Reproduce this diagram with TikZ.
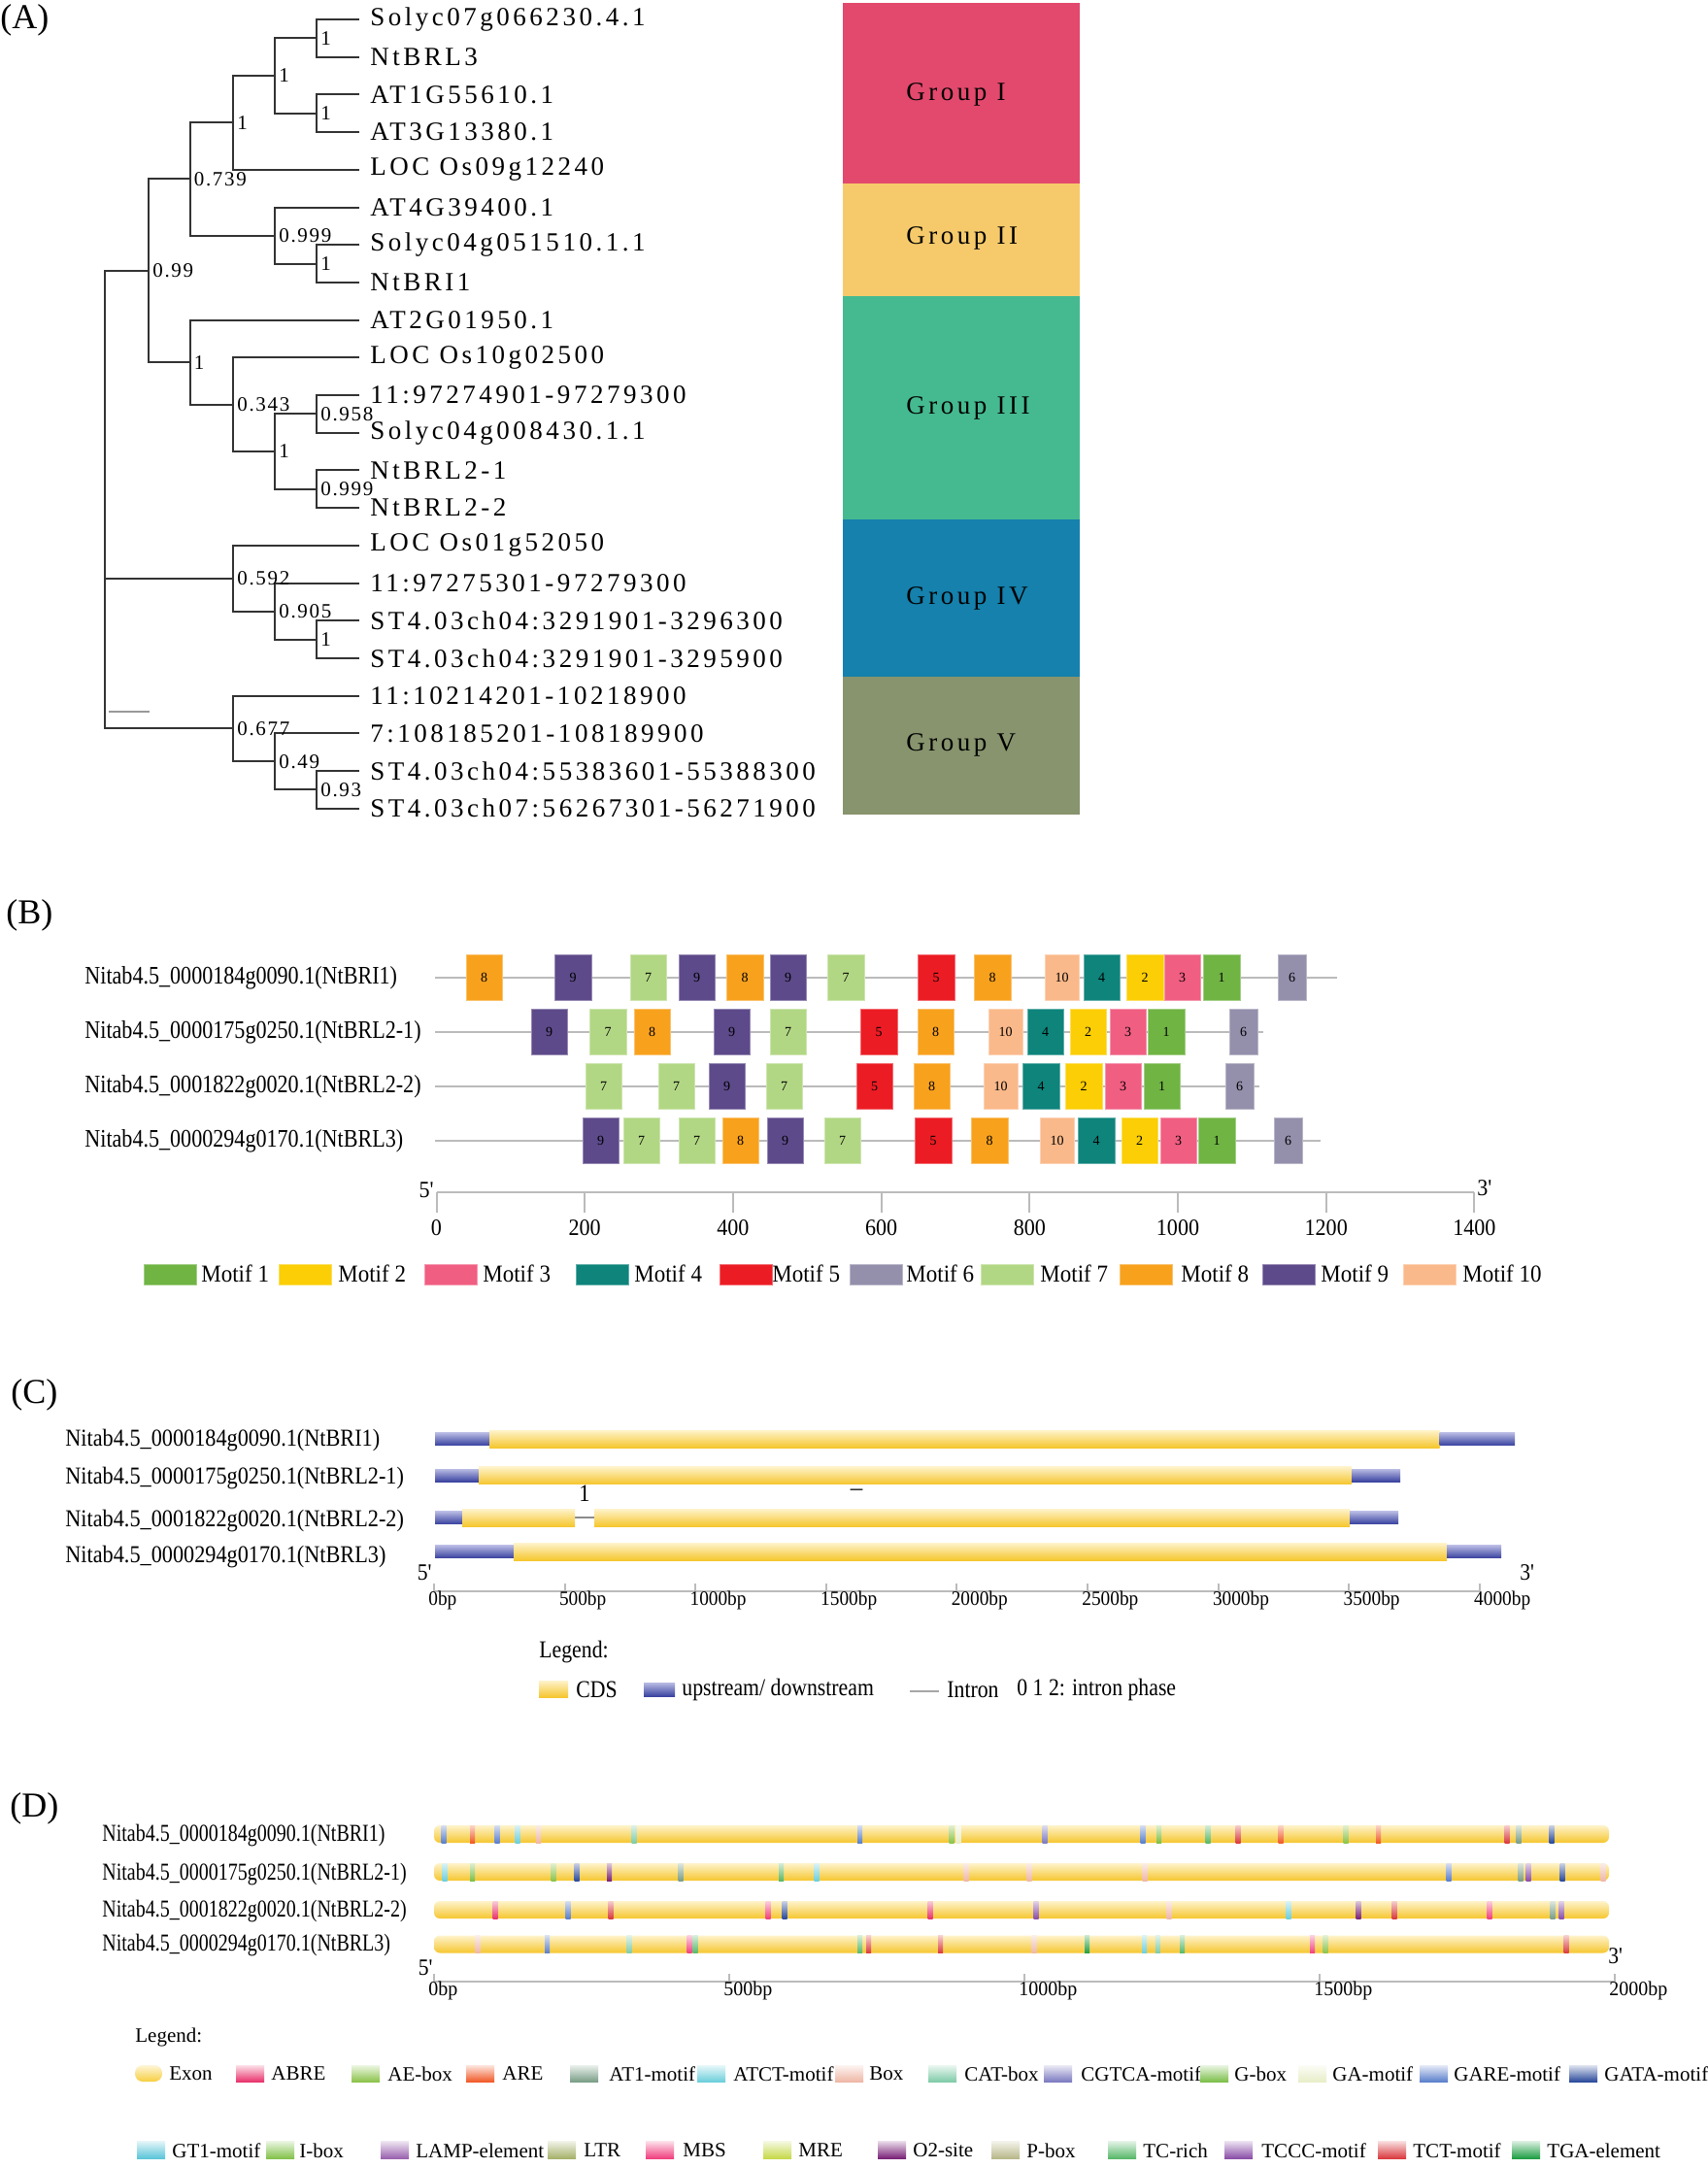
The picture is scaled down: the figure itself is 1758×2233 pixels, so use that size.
\documentclass[tikz,border=0pt]{standalone}
\usepackage{fontspec}
\setmainfont{Liberation Serif}
\newfontfamily\lsA[LetterSpace=13]{Liberation Serif}
\newfontfamily\lsB[LetterSpace=8]{Liberation Serif}
\usepackage{graphicx}
\newcommand\sx[2]{\scalebox{#1}[1]{#2}}
\newcommand\pr{\textquotesingle}
% group colours
\definecolor{g1}{HTML}{E2496D}
\definecolor{g2}{HTML}{F6CA6B}
\definecolor{g3}{HTML}{45BA91}
\definecolor{g4}{HTML}{1581AC}
\definecolor{g5}{HTML}{87946D}
% motif colours
\definecolor{m1}{HTML}{70B444}
\definecolor{m2}{HTML}{FBCE05}
\definecolor{m3}{HTML}{F05E82}
\definecolor{m4}{HTML}{0E847B}
\definecolor{m5}{HTML}{EC1C24}
\definecolor{m6}{HTML}{948FAB}
\definecolor{m7}{HTML}{B2D784}
\definecolor{m8}{HTML}{F8A11D}
\definecolor{m9}{HTML}{5D4A8A}
\definecolor{m10}{HTML}{FAB98A}
% gene structure
\definecolor{ytop}{HTML}{FEF3CB}
\definecolor{ymid}{HTML}{F9D766}
\definecolor{ybot}{HTML}{F5C62E}
\definecolor{btop}{HTML}{B8BBE3}
\definecolor{bmid}{HTML}{6E74C0}
\definecolor{bbot}{HTML}{3A43A0}
\definecolor{axgray}{HTML}{BBBBBB}
% cis elements
\definecolor{cExon}{HTML}{F7CE3E}
\definecolor{cABRE}{HTML}{E8336D}
\definecolor{cAE}{HTML}{8BC34A}
\definecolor{cARE}{HTML}{F05A28}
\definecolor{cAT1}{HTML}{7A9E87}
\definecolor{cATCT}{HTML}{6CCFDB}
\definecolor{cBox}{HTML}{EEB7A6}
\definecolor{cCAT}{HTML}{7FCBA8}
\definecolor{cCGTCA}{HTML}{7C7AC0}
\definecolor{cGbox}{HTML}{7CBF4A}
\definecolor{cGA}{HTML}{E8EDC8}
\definecolor{cGARE}{HTML}{5B7FCB}
\definecolor{cGATA}{HTML}{2B4A9B}
\definecolor{cGT1}{HTML}{5BC5D9}
\definecolor{cIbox}{HTML}{83C24B}
\definecolor{cLAMP}{HTML}{9A62AE}
\definecolor{cLTR}{HTML}{A6B26B}
\definecolor{cMBS}{HTML}{F0407F}
\definecolor{cMRE}{HTML}{C6D94A}
\definecolor{cO2}{HTML}{7A2378}
\definecolor{cPbox}{HTML}{B8B88A}
\definecolor{cTC}{HTML}{58B86A}
\definecolor{cTCCC}{HTML}{8A4EA8}
\definecolor{cTCT}{HTML}{D93A3F}
\definecolor{cTGA}{HTML}{1E9E44}
% helper macros
\newcommand\motif[4]{% y, x1, x2, motif number
  \fill[m#4, draw=m#4!65!white, line width=0.5pt] (#2,#1-23.5) rectangle (#3,#1+23.5);
  \node[font=\fontsize{7}{8}\selectfont, inner sep=0] at ({(#2+#3)/2},#1) {#4};}
\newcommand\cdsbar[3]{\shade[top color=ytop, middle color=ymid, bottom color=ybot] (#2,#1-9) rectangle (#3,#1+9);}
\newcommand\utrbar[3]{\shade[top color=btop, middle color=bmid, bottom color=bbot] (#2,#1-6.5) rectangle (#3,#1+6.5);}
\newcommand\stripe[3]{\shade[top color=#3!25!white, bottom color=#3] (#2-2.5,#1-9) rectangle (#2+2.5,#1+9);}
\begin{document}
\begin{tikzpicture}[x=0.5pt,y=-0.5pt,
  treeline/.style={draw=black!80, line width=1pt},
  leaflab/.style={anchor=west, inner sep=0, font=\lsA\fontsize{13.5}{15}\selectfont},
  suplab/.style={anchor=west, inner sep=0, font=\lsB\fontsize{10.5}{12}\selectfont},
  grplab/.style={anchor=west, inner sep=0, font=\lsA\fontsize{13.5}{15}\selectfont},
  panellab/.style={anchor=west, inner sep=0, font=\fontsize{18}{20}\selectfont},
  rowlab/.style={anchor=west, inner sep=0, font=\fontsize{13}{15}\selectfont},
  crowlab/.style={anchor=west, inner sep=0, font=\fontsize{12.5}{15}\selectfont},
  axisl/.style={draw=axgray, line width=1pt},
  tickB/.style={inner sep=0, font=\fontsize{12}{14}\selectfont},
  tickC/.style={anchor=west, inner sep=0, font=\fontsize{10.5}{12}\selectfont},
  legB/.style={anchor=west, inner sep=0, font=\fontsize{12.5}{15}\selectfont},
  legD/.style={anchor=west, inner sep=0, font=\fontsize{10.5}{12}\selectfont},
  primelab/.style={inner sep=0, font=\fontsize{12}{14}\selectfont}
]
\useasboundingbox (0,0) rectangle (1758,2233);
\fill[white] (0,0) rectangle (1758,2233);

%%%%%%%%%%%%%%%% (A) %%%%%%%%%%%%%%%%
\node[panellab] (PA) at (0,21) {(A)};
\foreach \i/\t in {0/Solyc07g066230.4.1, 1/NtBRL3, 2/AT1G55610.1, 3/AT3G13380.1,
  4/LOC Os09g12240, 5/AT4G39400.1, 6/Solyc04g051510.1.1, 7/NtBRI1, 8/AT2G01950.1,
  9/LOC Os10g02500, 10/11:97274901-97279300, 11/Solyc04g008430.1.1, 12/NtBRL2-1,
  13/NtBRL2-2, 14/LOC Os01g52050, 15/11:97275301-97279300, 16/ST4.03ch04:3291901-3296300,
  17/ST4.03ch04:3291901-3295900, 18/11:10214201-10218900, 19/7:108185201-108189900,
  20/ST4.03ch04:55383601-55388300, 21/ST4.03ch07:56267301-56271900}{
  \coordinate (L\i) at (370,{20+38.7*\i});
  \node[leaflab] (T\i) at (381,{20+38.7*\i}) {\t};
}
\coordinate (n1) at (326,39.35);
\coordinate (n2) at (326,116.75);
\coordinate (n3) at (283,78.05);
\coordinate (n4) at (240,126.4);
\coordinate (n5) at (326,271.55);
\coordinate (n6) at (283,242.5);
\coordinate (n7) at (195.5,184.45);
\coordinate (n8) at (326,426.35);
\coordinate (n9) at (326,503.75);
\coordinate (n10) at (283,465.05);
\coordinate (n11) at (240,416.7);
\coordinate (n12) at (195.5,373.15);
\coordinate (n13) at (153,278.8);
\coordinate (n14) at (326,658.55);
\coordinate (n15) at (283,629.5);
\coordinate (n16) at (240,595.65);
\coordinate (n17) at (326,813.35);
\coordinate (n18) at (283,784.3);
\coordinate (n19) at (240,750.45);
\coordinate (root) at (108,514.6);
\draw[treeline]
  (n1) |- (L0)  (n1) |- (L1)
  (n2) |- (L2)  (n2) |- (L3)
  (n3) |- (n1)  (n3) |- (n2)
  (n4) |- (n3)  (n4) |- (L4)
  (n5) |- (L6)  (n5) |- (L7)
  (n6) |- (L5)  (n6) |- (n5)
  (n7) |- (n4)  (n7) |- (n6)
  (n8) |- (L10) (n8) |- (L11)
  (n9) |- (L12) (n9) |- (L13)
  (n10) |- (n8) (n10) |- (n9)
  (n11) |- (L9) (n11) |- (n10)
  (n12) |- (L8) (n12) |- (n11)
  (n13) |- (n7) (n13) |- (n12)
  (n14) |- (L16) (n14) |- (L17)
  (n15) |- (L15) (n15) |- (n14)
  (n16) |- (L14) (n16) |- (n15)
  (n17) |- (L20) (n17) |- (L21)
  (n18) |- (L19) (n18) |- (n17)
  (n19) |- (L18) (n19) |- (n18)
  (root) |- (n13) (root) |- (n16) (root) |- (n19);
\foreach \n/\t in {n1/1, n2/1, n3/1, n4/1, n5/1, n6/0.999, n7/0.739, n8/0.958, n9/0.999,
  n10/1, n11/0.343, n12/1, n13/0.99, n14/1, n15/0.905, n16/0.592, n17/0.93, n18/0.49, n19/0.677}{
  \node[suplab] at ([xshift=2pt]\n) {\t};
}
\coordinate (sb1) at (112,733);
\coordinate (sb2) at (154,733);
\draw[draw=black!40, line width=1pt] (sb1) -- (sb2);
% group boxes
\fill[g1] (868,3) rectangle (1112,189);
\fill[g2] (868,189) rectangle (1112,305);
\fill[g3] (868,305) rectangle (1112,535);
\fill[g4] (868,535) rectangle (1112,697);
\fill[g5] (868,697) rectangle (1112,839);
\node[grplab] (G1) at (933,97) {Group I};
\node[grplab] (G2) at (933,245) {Group II};
\node[grplab] (G3) at (933,420) {Group III};
\node[grplab] (G4) at (933,616) {Group IV};
\node[grplab] (G5) at (933,767) {Group V};

%%%%%%%%%%%%%%%% (B) %%%%%%%%%%%%%%%%
\node[panellab] (PB) at (6,943) {(B)};
\draw[axisl] (448,1007) -- (1377,1007);
\draw[axisl] (448,1063) -- (1301,1063);
\draw[axisl] (448,1119) -- (1297,1119);
\draw[axisl] (448,1175) -- (1360,1175);
\node[rowlab] (B1) at (87,1007) {\sx{0.85}{Nitab4.5\_0000184g0090.1(NtBRI1)}};
\node[rowlab] (B2) at (87,1063) {\sx{0.85}{Nitab4.5\_0000175g0250.1(NtBRL2-1)}};
\node[rowlab] (B3) at (87,1119) {\sx{0.85}{Nitab4.5\_0001822g0020.1(NtBRL2-2)}};
\node[rowlab] (B4) at (87,1175) {\sx{0.85}{Nitab4.5\_0000294g0170.1(NtBRL3)}};
% row 1
\motif{1007}{480}{517}{8}\motif{1007}{571}{609}{9}\motif{1007}{649}{686}{7}
\motif{1007}{699}{736}{9}\motif{1007}{748}{786}{8}\motif{1007}{793}{830}{9}
\motif{1007}{852}{890}{7}\motif{1007}{945}{983}{5}\motif{1007}{1003}{1041}{8}
\motif{1007}{1076}{1111}{10}\motif{1007}{1116}{1153}{4}\motif{1007}{1160}{1198}{2}
\motif{1007}{1199}{1236}{3}\motif{1007}{1239}{1277}{1}\motif{1007}{1316}{1345}{6}
% row 2
\motif{1063}{547}{584}{9}\motif{1063}{607}{645}{7}\motif{1063}{653}{690}{8}
\motif{1063}{735}{772}{9}\motif{1063}{793}{830}{7}\motif{1063}{886}{924}{5}
\motif{1063}{945}{982}{8}\motif{1063}{1018}{1053}{10}\motif{1063}{1058}{1095}{4}
\motif{1063}{1102}{1139}{2}\motif{1063}{1143}{1180}{3}\motif{1063}{1182}{1220}{1}
\motif{1063}{1266}{1295}{6}
% row 3
\motif{1119}{603}{640}{7}\motif{1119}{678}{715}{7}\motif{1119}{730}{767}{9}
\motif{1119}{789}{826}{7}\motif{1119}{882}{919}{5}\motif{1119}{941}{978}{8}
\motif{1119}{1013}{1048}{10}\motif{1119}{1053}{1091}{4}\motif{1119}{1097}{1135}{2}
\motif{1119}{1138}{1175}{3}\motif{1119}{1178}{1215}{1}\motif{1119}{1262}{1291}{6}
% row 4
\motif{1175}{600}{637}{9}\motif{1175}{642}{679}{7}\motif{1175}{699}{736}{7}
\motif{1175}{744}{781}{8}\motif{1175}{790}{827}{9}\motif{1175}{849}{886}{7}
\motif{1175}{942}{980}{5}\motif{1175}{1000}{1038}{8}\motif{1175}{1071}{1106}{10}
\motif{1175}{1110}{1148}{4}\motif{1175}{1155}{1192}{2}\motif{1175}{1195}{1232}{3}
\motif{1175}{1234}{1272}{1}\motif{1175}{1312}{1341}{6}
% axis B
\coordinate (bax0) at (449.5,1228);
\coordinate (bax1) at (1518.4,1228);
\draw[axisl] (bax0) -- (bax1);
\foreach \v in {0,200,...,1400}{
  \draw[axisl] ({449.5+0.7635*\v},1228) -- ({449.5+0.7635*\v},1249);
  \node[tickB] at ({449.5+0.7635*\v},1265) {\sx{0.92}{\v}};
}
\node[primelab, anchor=east] (B5p) at (447,1226) {\sx{0.92}{5\pr}};
\node[primelab, anchor=west] (B3p) at (1521,1224) {\sx{0.92}{3\pr}};
% legend B
\foreach \k/\sxs/\txs in {1/148/207, 2/287/348, 3/437/497, 4/593/653, 5/741/795,
  6/875/933, 7/1010/1071, 8/1153/1216, 9/1300/1360, 10/1445/1506}{
  \fill[m\k, draw=m\k!65!white, line width=0.5pt] (\sxs,1302) rectangle ({\sxs+54},1323);
  \node[legB] at (\txs,1312) {\sx{0.92}{Motif \k}};
}

%%%%%%%%%%%%%%%% (C) %%%%%%%%%%%%%%%%
\node[panellab] (PC) at (11,1437) {(C)};
\node[crowlab] (C1) at (67,1484) {\sx{0.89}{Nitab4.5\_0000184g0090.1(NtBRI1)}};
\node[crowlab] (C2) at (67,1523) {\sx{0.89}{Nitab4.5\_0000175g0250.1(NtBRL2-1)}};
\node[crowlab] (C3) at (67,1567) {\sx{0.89}{Nitab4.5\_0001822g0020.1(NtBRL2-2)}};
\node[crowlab] (C4) at (67,1604) {\sx{0.89}{Nitab4.5\_0000294g0170.1(NtBRL3)}};
\utrbar{1482}{448}{504}\cdsbar{1482}{504}{1482.5}\utrbar{1482}{1482.5}{1560}
\utrbar{1519.5}{448}{493}\cdsbar{1519.5}{493}{1392}\utrbar{1519.5}{1392}{1442}
\draw[draw=black!45, line width=0.6pt] (592,1563) -- (612,1563);
\utrbar{1563}{448}{476}\cdsbar{1563}{476}{592}\cdsbar{1563}{612}{1390}\utrbar{1563}{1390}{1440}
\utrbar{1598}{448}{529}\cdsbar{1598}{529}{1490}\utrbar{1598}{1490}{1546}
\node[crowlab, anchor=center] (ph1) at (602,1538) {\sx{0.9}{1}};
\node[crowlab, anchor=center] (ph2) at (882,1537) {–};
% axis C
\coordinate (cax0) at (447,1639);
\coordinate (cax1) at (1525,1639);
\draw[axisl] (cax0) -- (cax1);
\foreach \k in {0,...,8}{
  \pgfmathtruncatemacro\lab{\k*500}
  \draw[axisl] ({447+134.6*\k},1631) -- ({447+134.6*\k},1639);
  \node[tickC] at ({447+134.6*\k-6},1648) {\sx{0.92}{\lab bp}};
}
\node[primelab, anchor=east] (C5p) at (445,1620) {\sx{0.9}{5\pr}};
\node[primelab, anchor=west] (C3p) at (1565,1620) {\sx{0.9}{3\pr}};
% legend C
\node[legB] (CLeg) at (555,1702) {\sx{0.87}{Legend:}};
\shade[top color=ytop, middle color=ymid, bottom color=ybot] (555,1731) rectangle (585,1748);
\node[legB] (CCDS) at (593,1740) {\sx{0.87}{CDS}};
\shade[top color=btop, middle color=bmid, bottom color=bbot] (663,1733) rectangle (695,1747);
\node[legB] (CUTR) at (702,1740) {\sx{0.87}{upstream/ downstream}};
\coordinate (ci1) at (937,1742);
\coordinate (ci2) at (967,1742);
\draw[draw=black!35, line width=0.8pt] (ci1) -- (ci2);
\node[legB] (CIn) at (975,1740) {\sx{0.87}{Intron}};
\node[legB] (CPh) at (1047,1740) {\sx{0.87}{0 1 2: intron phase}};

%%%%%%%%%%%%%%%% (D) %%%%%%%%%%%%%%%%
\node[panellab] (PD) at (10,1863) {(D)};
\node[crowlab] (D1) at (105,1891) {\sx{0.8}{Nitab4.5\_0000184g0090.1(NtBRI1)}};
\node[crowlab] (D2) at (105,1930) {\sx{0.8}{Nitab4.5\_0000175g0250.1(NtBRL2-1)}};
\node[crowlab] (D3) at (105,1968) {\sx{0.8}{Nitab4.5\_0001822g0020.1(NtBRL2-2)}};
\node[crowlab] (D4) at (105,2003) {\sx{0.8}{Nitab4.5\_0000294g0170.1(NtBRL3)}};
\foreach \yy in {1889,1928,1967,2002.5}{
  \shade[top color=ytop, middle color=ymid, bottom color=ybot, rounded corners=3pt] (447,\yy-9) rectangle (1657,\yy+9);
}
\foreach \xx/\cc in {457/cGARE, 486.5/cARE, 512/cGARE, 533/cATCT, 554.5/cBox, 653/cCAT,
  885.5/cGARE, 980/cAE, 987/cGA, 1076/cCGTCA, 1177/cGARE, 1193.5/cGbox, 1244/cTC,
  1275/cTCT, 1319/cARE, 1386/cAE, 1419.5/cARE, 1552/cTCT, 1564/cAT1, 1598/cGATA}{
  \stripe{1889}{\xx}{\cc}}
\foreach \xx/\cc in {458/cATCT, 486.5/cGbox, 570/cAE, 594/cGATA, 627.5/cO2, 701/cAT1,
  804.5/cTC, 841/cATCT, 995/cBox, 1060/cBox, 1179/cBox, 1492/cGARE, 1566/cAT1,
  1574/cTCCC, 1609/cGATA, 1651/cBox}{
  \stripe{1928}{\xx}{\cc}}
\foreach \xx/\cc in {510/cABRE, 585/cGARE, 629/cTCT, 791/cMBS, 808/cGATA, 958/cABRE,
  1067/cTCCC, 1204/cBox, 1327/cATCT, 1399/cO2, 1436/cTCT, 1534/cMBS, 1599/cAT1, 1608/cTCCC}{
  \stripe{1967}{\xx}{\cc}}
\foreach \xx/\cc in {492/cBox, 563.5/cGARE, 648/cCAT, 710/cMBS, 716/cTC, 885.5/cTC,
  894.6/cTCT, 968.5/cTCT, 1065/cBox, 1119.6/cTGA, 1178.5/cATCT, 1192.4/cCAT, 1217.6/cTC,
  1351.5/cMBS, 1365/cAE, 1613/cTCT}{
  \stripe{2002.5}{\xx}{\cc}}
% axis D
\coordinate (dax0) at (447,2041);
\coordinate (dax1) at (1663,2041);
\draw[axisl] (dax0) -- (dax1);
\foreach \k in {0,...,4}{
  \pgfmathtruncatemacro\lab{\k*500}
  \draw[axisl] ({447+304*\k},2033) -- ({447+304*\k},2041);
  \node[tickC] at ({447+304*\k-6},2050) {\sx{0.95}{\lab bp}};
}
\node[primelab, anchor=east] (D5p) at (446,2027) {\sx{0.9}{5\pr}};
\node[primelab, anchor=west] (D3p) at (1656,2015) {\sx{0.9}{3\pr}};
% legend D
\node[legD] (DLeg) at (139,2098) {Legend:};
\shade[top color=cExon!20!white, bottom color=cExon, rounded corners=4pt] (139,2127) rectangle (167,2144);
\node[legD] at (174,2136) {Exon};
\foreach \sxs/\txs/\cc/\tt in {243/279/cABRE/ABRE, 362/399/cAE/AE-box, 480/517/cARE/ARE,
  587/627/cAT1/AT1-motif, 718/755/cATCT/ATCT-motif, 860/895/cBox/Box, 956/993/cCAT/CAT-box,
  1075/1113/cCGTCA/CGTCA-motif, 1236/1271/cGbox/G-box, 1337/1372/cGA/GA-motif,
  1462/1497/cGARE/GARE-motif, 1616/1652/cGATA/GATA-motif}{
  \shade[top color=\cc!15!white, bottom color=\cc] (\sxs,2127) rectangle ({\sxs+29},2144);
  \node[legD] at (\txs,2136) {\tt};
}
\foreach \sxs/\txs/\cc/\tt in {141/177/cGT1/GT1-motif, 274/308/cIbox/I-box,
  392/428/cLAMP/LAMP-element, 564/601/cLTR/LTR, 665/703/cMBS/MBS, 786/822/cMRE/MRE,
  904/940/cO2/O2-site, 1021/1057/cPbox/P-box, 1141/1177/cTC/TC-rich,
  1261/1299/cTCCC/TCCC-motif, 1419/1455/cTCT/TCT-motif, 1557/1593/cTGA/TGA-element}{
  \shade[top color=\cc!15!white, bottom color=\cc] (\sxs,2205) rectangle ({\sxs+29},2223);
  \node[legD] at (\txs,2215) {\tt};
}
\end{tikzpicture}
\end{document}
